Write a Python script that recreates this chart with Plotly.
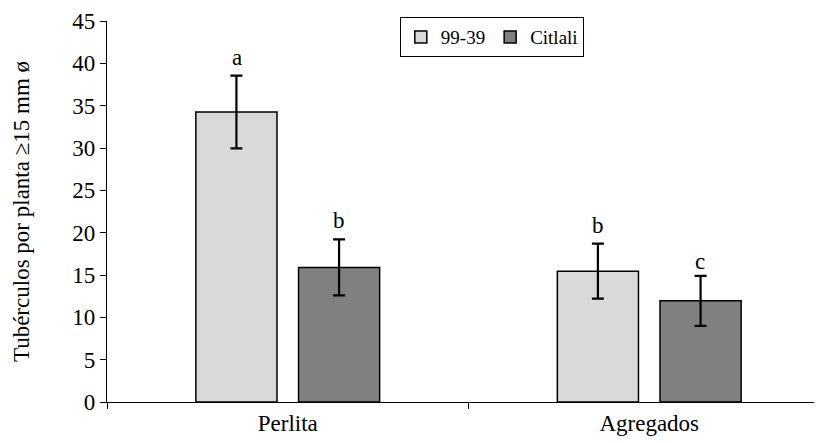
import plotly.graph_objects as go

categories = ["Perlita", "Agregados"]
series_names = ["99-39", "Citlali"]
values_9939 = [34.25, 15.45]
errors_9939 = [4.3, 3.25]
values_citlali = [15.9, 11.95]
errors_citlali = [3.3, 2.95]
letters_9939 = ["a", "b"]
letters_citlali = ["b", "c"]
y_ticks = [0, 5, 10, 15, 20, 25, 30, 35, 40, 45]

FONT = "Liberation Serif"
letter_shift_9939 = [18, 18]
letter_shift_citlali = [19, 14]

fig = go.Figure()
fig.add_trace(go.Bar(
    name=series_names[0], x=categories, y=values_9939,
    marker=dict(color="#d9d9d9", line=dict(color="black", width=1.5)),
    error_y=dict(type="data", array=errors_9939, color="black", thickness=2.2, width=6),
))
fig.add_trace(go.Bar(
    name=series_names[1], x=categories, y=values_citlali,
    marker=dict(color="#808080", line=dict(color="black", width=1.5)),
    error_y=dict(type="data", array=errors_citlali, color="black", thickness=2.2, width=6),
))

for i, cat in enumerate(categories):
    fig.add_annotation(x=cat, y=values_9939[i] + errors_9939[i], text=letters_9939[i],
                       showarrow=False, xshift=-51, yshift=letter_shift_9939[i],
                       font=dict(size=23, family=FONT, color="black"))
    fig.add_annotation(x=cat, y=values_citlali[i] + errors_citlali[i], text=letters_citlali[i],
                       showarrow=False, xshift=51, yshift=letter_shift_citlali[i],
                       font=dict(size=23, family=FONT, color="black"))

fig.update_layout(
    width=822, height=443,
    margin=dict(l=99, r=0, t=13, b=49, autoexpand=False),
    paper_bgcolor="white", plot_bgcolor="white",
    barmode="group", bargap=0.432, bargroupgap=0.21,
    font=dict(family=FONT, size=23, color="black"),
    showlegend=True,
    legend=dict(orientation="h", x=0.405, y=1.01, xanchor="left", yanchor="top",
                bordercolor="black", borderwidth=1, bgcolor="white",
                font=dict(size=19, family=FONT), itemwidth=30, traceorder="normal"),
    xaxis=dict(range=[-0.5, 1.5], showline=True, linecolor="black", linewidth=1.2,
               ticks="outside", tickson="boundaries", ticklen=6, tickcolor="black",
               showgrid=False, tickfont=dict(size=23, family=FONT), automargin=False),
    yaxis=dict(range=[0, 45], tickvals=y_ticks, showline=True, linecolor="black", linewidth=1.2,
               ticks="outside", ticklen=6, tickcolor="black", showgrid=False, zeroline=False,
               tickfont=dict(size=23, family=FONT), automargin=False,
               ticksuffix="\u00a0\u00a0",
               title=dict(text="Tubérculos por planta ≥15 mm ø", font=dict(size=23, family=FONT), standoff=36)),
)

fig.write_html("out.html")
